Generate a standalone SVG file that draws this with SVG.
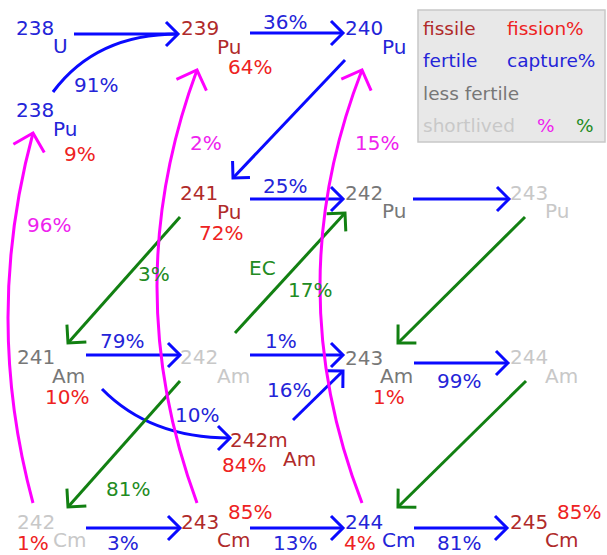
<svg xmlns="http://www.w3.org/2000/svg" width="607" height="555" viewBox="0 0 607 555">
<style>
text{font-family:"DejaVu Sans",Verdana,sans-serif;font-size:20px}
.lg{font-size:18.5px}
.bl{fill:#2424d8}.dr{fill:#b02a2a}.rd{fill:#ee2222}.gy{fill:#777}.lt{fill:#c8c8c8}
.pk{fill:#ee22ee}.gn{fill:#228b22}
.c{fill:none;stroke-width:3}
.sb{stroke:#0a0aff}.sg{stroke:#128012}.sp{stroke:#ff00ff}
</style>
<defs>
<marker id="ab" markerUnits="userSpaceOnUse" markerWidth="40" markerHeight="40" refX="0" refY="0" viewBox="-20 -20 40 40" orient="auto" overflow="visible"><path d="M-12,-12L0,0L-12,12" fill="none" stroke="#0a0aff" stroke-width="3"/></marker>
<marker id="ag" markerUnits="userSpaceOnUse" markerWidth="40" markerHeight="40" refX="0" refY="0" viewBox="-20 -20 40 40" orient="auto" overflow="visible"><path d="M-13,-13L0,0L-13,13" fill="none" stroke="#128012" stroke-width="3"/></marker>
<marker id="ap" markerUnits="userSpaceOnUse" markerWidth="40" markerHeight="40" refX="0" refY="0" viewBox="-20 -20 40 40" orient="auto" overflow="visible"><path d="M-16,-16L0,0L-16,16" fill="none" stroke="#ff00ff" stroke-width="3"/></marker>
</defs>
<rect width="607" height="555" fill="#fff"/>
<g id="legend">
<rect x="418" y="10" width="187" height="132" fill="#e8e8e8" stroke="#c8c8c8" stroke-width="1.5"/>
<text class="lg dr" x="423" y="35">fissile</text>
<text class="lg rd" x="507" y="35">fission%</text>
<text class="lg bl" x="423" y="67">fertile</text>
<text class="lg bl" x="507" y="67">capture%</text>
<text class="lg gy" x="423" y="100">less fertile</text>
<text class="lg lt" x="423" y="132">shortlived</text>
<text class="lg pk" x="537" y="132">%</text>
<text class="lg gn" x="576" y="132">%</text>
</g>
<g id="connectors">
<path class="c sb" d="M74,34H178" marker-end="url(#ab)"/>
<path class="c sb" d="M53,92Q96,34 178,34"/>
<path class="c sb" d="M250,33H343" marker-end="url(#ab)"/>
<path class="c sb" d="M345,60L233,178" marker-end="url(#ab)"/>
<path class="c sb" d="M250,199H343" marker-end="url(#ab)"/>
<path class="c sb" d="M413,199H509" marker-end="url(#ab)"/>
<path class="c sg" d="M525,217L398,343" marker-end="url(#ag)"/>
<path class="c sg" d="M180,217L68,343" marker-end="url(#ag)"/>
<path class="c sg" d="M235,333L345,213" marker-end="url(#ag)"/>
<path class="c sb" d="M86,355H180" marker-end="url(#ab)"/>
<path class="c sb" d="M250,355H343" marker-end="url(#ab)"/>
<path class="c sb" d="M414,363H508" marker-end="url(#ab)"/>
<path class="c sg" d="M526,381L398,507" marker-end="url(#ag)"/>
<path class="c sb" d="M293,420L343,371" marker-end="url(#ab)"/>
<path class="c sb" d="M102,389Q150,438 230,438" marker-end="url(#ab)"/>
<path class="c sg" d="M180,381L68,507" marker-end="url(#ag)"/>
<path class="c sb" d="M86,528H180" marker-end="url(#ab)"/>
<path class="c sb" d="M250,528H343" marker-end="url(#ab)"/>
<path class="c sb" d="M414,528H507" marker-end="url(#ab)"/>
<path class="c sp" d="M33,503Q-17,318 33,133" marker-end="url(#ap)"/>
<path class="c sp" d="M197,503Q117,286 197,70" marker-end="url(#ap)"/>
<path class="c sp" d="M362,503Q278,286 362,70" marker-end="url(#ap)"/>
<text class="bl" x="74" y="92">91%</text>
<text class="bl" x="263" y="29">36%</text>
<text class="bl" x="263" y="193">25%</text>
<text class="pk" x="190" y="150">2%</text>
<text class="pk" x="355" y="150">15%</text>
<text class="pk" x="27" y="232">96%</text>
<text class="gn" x="138" y="281">3%</text>
<text class="gn" x="249" y="275">EC</text>
<text class="gn" x="288" y="297">17%</text>
<text class="bl" x="100" y="348">79%</text>
<text class="bl" x="265" y="348">1%</text>
<text class="bl" x="437" y="388">99%</text>
<text class="bl" x="267" y="397">16%</text>
<text class="bl" x="175" y="422">10%</text>
<text class="gn" x="106" y="496">81%</text>
<text class="bl" x="107" y="550">3%</text>
<text class="bl" x="273" y="550">13%</text>
<text class="bl" x="437" y="550">81%</text>
</g>
<g id="U238"><text class="bl" x="16" y="35">238</text><text class="bl" x="53" y="53">U</text></g>
<g id="Pu238"><text class="bl" x="16" y="117">238</text><text class="bl" x="53" y="136">Pu</text><text class="rd" x="64" y="161">9%</text></g>
<g id="Pu239"><text class="dr" x="181" y="35">239</text><text class="dr" x="217" y="54">Pu</text><text class="rd" x="228" y="74">64%</text></g>
<g id="Pu240"><text class="bl" x="345" y="35">240</text><text class="bl" x="382" y="54">Pu</text></g>
<g id="Pu241"><text class="dr" x="180" y="200">241</text><text class="dr" x="217" y="219">Pu</text><text class="rd" x="199" y="240">72%</text></g>
<g id="Pu242"><text class="gy" x="345" y="200">242</text><text class="gy" x="382" y="218">Pu</text></g>
<g id="Pu243"><text class="lt" x="510" y="200">243</text><text class="lt" x="545" y="218">Pu</text></g>
<g id="Am241"><text class="gy" x="17" y="364">241</text><text class="gy" x="52" y="383">Am</text><text class="rd" x="45" y="404">10%</text></g>
<g id="Am242"><text class="lt" x="180" y="364">242</text><text class="lt" x="217" y="383">Am</text></g>
<g id="Am243"><text class="gy" x="345" y="365">243</text><text class="gy" x="380" y="383">Am</text><text class="rd" x="373" y="404">1%</text></g>
<g id="Am244"><text class="lt" x="510" y="364">244</text><text class="lt" x="545" y="383">Am</text></g>
<g id="Am242m"><text class="dr" x="230" y="447">242m</text><text class="dr" x="283" y="466">Am</text><text class="rd" x="222" y="472">84%</text></g>
<g id="Cm242"><text class="lt" x="17" y="529">242</text><text class="lt" x="53" y="547">Cm</text><text class="rd" x="17" y="550">1%</text></g>
<g id="Cm243"><text class="dr" x="181" y="529">243</text><text class="dr" x="217" y="547">Cm</text><text class="rd" x="228" y="519">85%</text></g>
<g id="Cm244"><text class="bl" x="345" y="529">244</text><text class="bl" x="382" y="547">Cm</text><text class="rd" x="344" y="550">4%</text></g>
<g id="Cm245"><text class="dr" x="510" y="529">245</text><text class="dr" x="545" y="547">Cm</text><text class="rd" x="557" y="519">85%</text></g>
</svg>
